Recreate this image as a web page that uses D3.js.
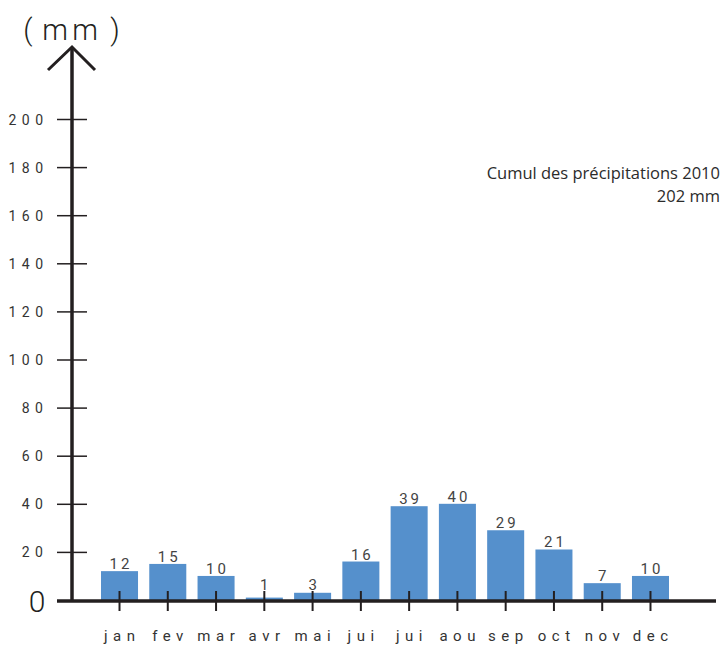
<!DOCTYPE html>
<html>
<head>
<meta charset="utf-8">
<script src="https://cdn.jsdelivr.net/npm/d3@7"></script>
<style>
  html, body { margin: 0; padding: 0; background: #fff; }
  svg { display: block; }
</style>
</head>
<body>
<svg id="chart" width="722" height="645"></svg>
<script>
// Monthly rainfall, 2010 (mm)
const months = ["jan", "fev", "mar", "avr", "mai", "jui", "jui ", "aou", "sep", "oct", "nov", "dec"];
const monthLabels = ["jan", "fev", "mar", "avr", "mai", "jui", "jui", "aou", "sep", "oct", "nov", "dec"];
const rainfall = [12, 15, 10, 1, 3, 16, 39, 40, 29, 21, 7, 10];
const yTicks = [20, 40, 60, 80, 100, 120, 140, 160, 180, 200];
const titleLines = ["Cumul des précipitations 2010", "202 mm"];

const ink = "#231f20";
const barColor = "#5590cc";
const numFont = "Roboto, 'DejaVu Sans', sans-serif";

const svg = d3.select("#chart");

const x = d3.scaleBand().domain(months).range([101, 669]).paddingInner(0.233);
const y = d3.scaleLinear().domain([0, 200]).range([600, 119]);

// bars
svg.append("g").selectAll("rect")
  .data(rainfall)
  .join("rect")
  .attr("x", (d, i) => x(months[i]))
  .attr("width", x.bandwidth())
  .attr("y", d => y(d))
  .attr("height", d => y(0) - y(d))
  .attr("fill", barColor);

// value labels
const vls = 3;
svg.append("g").selectAll("text")
  .data(rainfall)
  .join("text")
  .attr("x", (d, i) => x(months[i]) + x.bandwidth() / 2 + vls / 2)
  .attr("y", d => Math.min(y(d) - 2, 590))
  .attr("text-anchor", "middle")
  .attr("font-family", numFont)
  .attr("font-size", 15)
  .attr("letter-spacing", vls)
  .attr("fill", "#444")
  .text(d => d);

// y axis: horizontal tick marks and spaced labels
const yAxis = d3.axisLeft(y).tickValues(yTicks).tickSize(0).tickFormat(d => d);
const gy = svg.append("g").attr("transform", "translate(72,0)").call(yAxis);
gy.select(".domain").remove();
gy.selectAll(".tick text").remove();
gy.selectAll(".tick").append("line")
  .attr("x1", -15).attr("x2", 15)
  .attr("stroke", ink).attr("stroke-width", 1.5);
const yls = 5.5;
gy.selectAll(".tick").append("text")
  .attr("x", -29 + yls)
  .attr("dy", "0.36em")
  .attr("text-anchor", "end")
  .attr("font-family", numFont)
  .attr("font-size", 14)
  .attr("letter-spacing", yls)
  .attr("fill", "#333")
  .text(d => d);

// zero label
svg.append("text")
  .attr("x", 37).attr("y", 601).attr("dy", "0.36em")
  .attr("text-anchor", "middle")
  .attr("font-family", numFont)
  .attr("font-weight", 300)
  .attr("font-size", 30)
  .attr("fill", ink)
  .text("0");

// y axis line with arrow head
svg.append("line")
  .attr("x1", 72).attr("x2", 72).attr("y1", 48).attr("y2", 602)
  .attr("stroke", ink).attr("stroke-width", 3.5);
svg.append("path")
  .attr("d", "M48,70L72,47L95,70")
  .attr("fill", "none").attr("stroke", ink).attr("stroke-width", 3);

// unit label
const unit = svg.append("text")
  .attr("y", 40)
  .attr("font-family", numFont)
  .attr("font-weight", 300)
  .attr("font-size", 29)
  .attr("fill", ink)
  .attr("text-anchor", "middle");
[["(", 28], ["m", 55], ["m", 85], [")", 115]].forEach(([t, px]) => {
  unit.append("tspan").attr("x", px).text(t);
});

// x axis line
svg.append("line")
  .attr("x1", 57).attr("x2", 716).attr("y1", 601).attr("y2", 601)
  .attr("stroke", ink).attr("stroke-width", 3.5);

// x axis ticks and month labels
const xAxis = d3.axisBottom(x).tickSize(0).tickFormat((d, i) => monthLabels[i]);
const gx = svg.append("g").attr("transform", "translate(0,601)").call(xAxis);
gx.select(".domain").remove();
gx.selectAll(".tick text").remove();
gx.selectAll(".tick").append("line")
  .attr("y1", -10).attr("y2", 10)
  .attr("stroke", ink).attr("stroke-width", 2);
const mls = 5.5;
gx.selectAll(".tick").append("text")
  .attr("x", mls / 2)
  .attr("y", 40)
  .attr("text-anchor", "middle")
  .attr("font-family", numFont)
  .attr("font-size", 15)
  .attr("letter-spacing", mls)
  .attr("fill", "#333")
  .text((d, i) => monthLabels[i]);

// annual total
svg.append("g").selectAll("text")
  .data(titleLines)
  .join("text")
  .attr("x", 720)
  .attr("y", (d, i) => 179 + i * 23)
  .attr("text-anchor", "end")
  .attr("font-family", "'Open Sans', sans-serif")
  .attr("font-size", 16.5)
  .attr("fill", "#2b2b2b")
  .text(d => d);
</script>
</body>
</html>
